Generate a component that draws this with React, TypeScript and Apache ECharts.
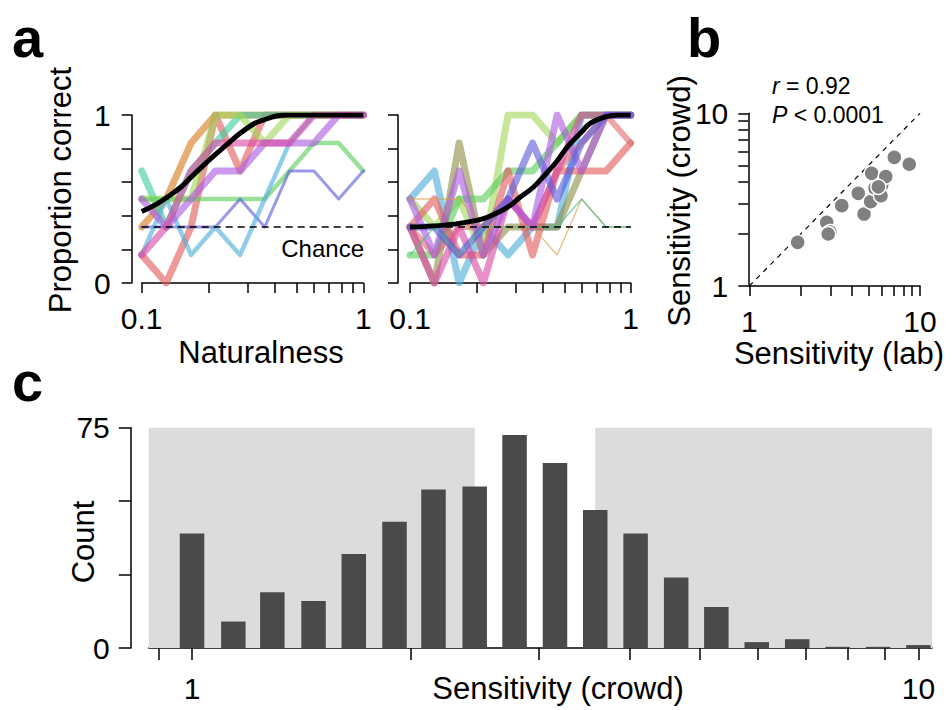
import React, { useEffect, useRef } from 'react';
import * as echarts from 'echarts';

const FONT = '"Liberation Sans", Arial, Helvetica, sans-serif';

// ---------- panel a ----------
const NATURALNESS = [0.1, 0.129, 0.167, 0.215, 0.278, 0.359, 0.464, 0.599, 0.774, 1.0];
const CHANCE_LEVEL = 0.333;
const A_TICKS = [0.1, 0.2, 0.3, 0.4, 0.5, 0.6, 0.7, 0.8, 0.9, 1];
const A_LABELS = [0.1, 1];
const PROP_TICKS = [0, 0.2, 0.4, 0.6, 0.8, 1];
const PROP_LABELS = [0, 1];

const LEFT_SUBJECTS = [
  [0.333, 0.5, 0.833, 1, 1, 1, 1, 1, 1, 1],
  [0.167, 0, 0.333, 1, 0.667, 1, 1, 1, 1, 1],
  [0.667, 0.333, 0.667, 0.833, 1, 1, 1, 1, 1, 1],
  [0.5, 0.5, 0.5, 1, 1, 0.833, 1, 1, 1, 1],
  [0.5, 0.5, 0.5, 0.5, 0.5, 0.5, 0.667, 0.833, 0.833, 0.667],
  [0.333, 0.333, 0.333, 0.333, 0.5, 0.333, 0.667, 0.667, 0.5, 0.667],
  [0.167, 0.5, 0.167, 0.333, 0.167, 0.5, 0.833, 1, 1, 1],
  [0.5, 0.333, 0.5, 0.667, 0.667, 0.833, 0.833, 0.833, 1, 1],
  [0.167, 0.333, 0.667, 0.833, 0.833, 0.833, 0.833, 1, 1, 1],
];
const LEFT_COLORS = ['#d77a1f', '#e05c5c', '#3fcf9f', '#a3d65c', '#5ccc5c', '#5c5cdc', '#4eaedc', '#ac5ce0', '#da4aa6'];
const LEFT_WIDTHS = [7, 7, 7, 7, 4.5, 3, 4.5, 7, 7];

const RIGHT_SUBJECTS = [
  [0.5, 0.667, 0, 0.333, 0.167, 0.333, 0.333, 1, 1, 1],
  [0.333, 0, 0.833, 0.167, 0.333, 0.333, 0.333, 0.667, 1, 1],
  [0.5, 0.333, 0.5, 0.167, 1, 1, 0.833, 1, 1, 1],
  [0.167, 0.167, 0.5, 0.5, 0.667, 0.667, 0.833, 1, 1, 1],
  [0.333, 0.5, 0.167, 0.167, 0.667, 0.167, 0.667, 0.667, 0.667, 0.833],
  [0.333, 0.167, 0.333, 0.333, 0.5, 0.333, 0.667, 0.833, 1, 0.833],
  [0.333, 0, 0.333, 0, 0.5, 0.333, 0.667, 1, 1, 1],
  [0.5, 0.167, 0.667, 0.167, 0.5, 0.333, 1, 0.667, 1, 1],
  [0.333, 0.333, 0.167, 0.333, 0.5, 0.833, 0.5, 0.833, 1, 1],
  [0.5, 0.5, 0.5, 0.333, 0.333, 0.333, 0.167, 0.5, 0.333, 0.333],
  [0.167, 0.333, 0.167, 0.333, 0.333, 0.333, 0.333, 0.5, 0.333, 0.333],
];
const RIGHT_COLORS = ['#4eaedc', '#8f8f4a', '#a3d65c', '#5ccc5c', '#e05c5c', '#e07070', '#da4aa6', '#ac5ce0', '#5c5cdc', '#d9a050', '#3fbf88'];
const RIGHT_WIDTHS = [7, 7, 7, 7, 7, 6, 7, 7, 7, 1.5, 1.5];

const LEFT_FIT_X = [0.1, 0.115, 0.13, 0.15, 0.168, 0.19, 0.214, 0.245, 0.278, 0.324, 0.354, 0.406, 0.46, 0.6, 1];
const LEFT_FIT_Y = [0.425, 0.465, 0.51, 0.57, 0.633, 0.7, 0.762, 0.83, 0.891, 0.951, 0.97, 0.994, 1, 1, 1];
const RIGHT_FIT_X = [0.1, 0.13, 0.167, 0.215, 0.25, 0.28, 0.315, 0.362, 0.41, 0.463, 0.52, 0.6, 0.655, 0.774, 0.88, 1];
const RIGHT_FIT_Y = [0.333, 0.34, 0.355, 0.383, 0.42, 0.455, 0.51, 0.57, 0.645, 0.725, 0.815, 0.9, 0.95, 0.99, 1, 1];

// ---------- panel b ----------
const SENS_LAB = [1.92, 2.84, 2.97, 2.9, 3.48, 4.35, 4.7, 5.14, 5.21, 5.45, 5.97, 5.91, 6.3, 7.07, 8.65, 5.7];
const SENS_CROWD = [1.79, 2.34, 2.05, 2.0, 2.92, 3.44, 2.61, 3.08, 4.49, 3.68, 3.84, 3.33, 4.3, 5.56, 5.07, 3.75];
const B_TICKS = [1, 2, 3, 4, 5, 6, 7, 8, 9, 10];
const B_LABELS = [1, 10];
const B_RANGE = [1, 10];

// ---------- panel c ----------
const BIN_CENTERS = [1.0, 1.14, 1.29, 1.47, 1.67, 1.9, 2.15, 2.45, 2.78, 3.16, 3.59, 4.08, 4.64, 5.27, 5.99, 6.81, 7.74, 8.8, 10.0];
const COUNTS = [39, 9, 19, 16, 32, 43, 54, 55, 72.5, 63, 47, 39, 24, 14, 2, 3, 0.4, 0.4, 1];
const C_RANGE = [0.872, 10.44];
const C_TICKS = [0.9, 1, 2, 3, 4, 5, 6, 7, 8, 9, 10];
const C_LABELS = [1, 10];
const COUNT_TICKS = [0, 25, 50, 75];
const COUNT_MAX = 75;
const COUNT_LABELS = [0, 75];
const LOW_RANGE = [0.872, 2.45];
const HIGH_RANGE = [3.59, 10.44];

const L = Math.log10;
const fmtLog = (v: number) => {
  const r = Math.pow(10, v);
  return r < 0.999 ? String(Math.round(r * 10) / 10) : String(Math.round(r));
};

const lineStyleAxis = { show: true, onZero: false, lineStyle: { color: '#000', width: 1.5 } };
const tickStyle = (len: number, values: number[]) => ({
  show: true,
  inside: false,
  length: len,
  customValues: values,
  lineStyle: { color: '#000', width: 1.5 },
});
const labelStyle = (values: number[], margin: number, formatter?: any) => ({
  show: true,
  customValues: values,
  margin,
  color: '#000',
  fontSize: 30,
  fontFamily: FONT,
  formatter,
});

function buildOption(): any {
  const series: any[] = [];
  const subj = (vals: number[], color: string, width: number, ax: number) => ({
    type: 'line',
    xAxisIndex: ax,
    yAxisIndex: ax,
    data: NATURALNESS.map((n, i) => [L(n), vals[i]]),
    symbol: 'none',
    silent: true,
    lineStyle: { color, width, opacity: 0.62, cap: 'round', join: 'round' },
    z: 2,
  });
  LEFT_SUBJECTS.forEach((v, i) => series.push(subj(v, LEFT_COLORS[i], LEFT_WIDTHS[i], 0)));
  RIGHT_SUBJECTS.forEach((v, i) => series.push(subj(v, RIGHT_COLORS[i], RIGHT_WIDTHS[i], 1)));
  [0, 1].forEach((ax) => {
    series.push({
      type: 'line',
      xAxisIndex: ax,
      yAxisIndex: ax,
      data: [
        [L(NATURALNESS[0]), CHANCE_LEVEL],
        [L(NATURALNESS[NATURALNESS.length - 1]), CHANCE_LEVEL],
      ],
      symbol: 'none',
      silent: true,
      lineStyle: { color: '#000', width: 1.5, type: [7, 5] },
      z: 3,
    });
  });
  series.push({
    type: 'line',
    xAxisIndex: 0,
    yAxisIndex: 0,
    data: LEFT_FIT_X.map((x, i) => [L(x), LEFT_FIT_Y[i]]),
    symbol: 'none',
    smooth: 0.4,
    silent: true,
    lineStyle: { color: '#000', width: 5 },
    z: 4,
  });
  series.push({
    type: 'line',
    xAxisIndex: 1,
    yAxisIndex: 1,
    data: RIGHT_FIT_X.map((x, i) => [L(x), RIGHT_FIT_Y[i]]),
    symbol: 'none',
    smooth: 0.4,
    silent: true,
    lineStyle: { color: '#000', width: 5 },
    z: 4,
  });
  // panel b
  series.push({
    type: 'line',
    xAxisIndex: 2,
    yAxisIndex: 2,
    data: [
      [L(B_RANGE[0]), L(B_RANGE[0])],
      [L(B_RANGE[1]), L(B_RANGE[1])],
    ],
    symbol: 'none',
    silent: true,
    lineStyle: { color: '#000', width: 1.2, type: [5, 5] },
    z: 2,
  });
  series.push({
    type: 'scatter',
    xAxisIndex: 2,
    yAxisIndex: 2,
    data: SENS_LAB.map((x, i) => [L(x), L(SENS_CROWD[i])]),
    symbolSize: 15,
    silent: true,
    itemStyle: { color: '#808080', borderColor: '#fff', borderWidth: 1.5, opacity: 1 },
    z: 3,
  });
  // panel c
  series.push({
    type: 'bar',
    xAxisIndex: 3,
    yAxisIndex: 3,
    data: BIN_CENTERS.map((c, i) => [L(c), COUNTS[i]]),
    barWidth: 24.5,
    silent: true,
    itemStyle: { color: '#4a4a4a' },
    markArea: {
      silent: true,
      itemStyle: { color: '#dcdcdc' },
      data: [
        [{ xAxis: L(LOW_RANGE[0]), yAxis: 0 }, { xAxis: L(LOW_RANGE[1]), yAxis: COUNT_MAX }],
        [{ xAxis: L(HIGH_RANGE[0]), yAxis: 0 }, { xAxis: L(HIGH_RANGE[1]), yAxis: COUNT_MAX }],
      ],
    },
    z: 3,
  });

  const txt = (text: string, x: number, y: number, size: number, align: string, extra: any = {}) => ({
    type: 'text',
    x,
    y,
    silent: true,
    rotation: extra.rotation || 0,
    style: {
      text,
      fill: '#000',
      font: `${extra.bold ? 'bold ' : ''}${size}px ${FONT}`,
      textAlign: align,
      textVerticalAlign: 'middle',
    },
  });

  const graphic: any[] = [
    txt('a', 12, 37, 56, 'left', { bold: true }),
    txt('b', 687, 37, 56, 'left', { bold: true }),
    txt('c', 12, 381, 56, 'left', { bold: true }),
    txt('Chance', 364, 248, 24, 'right'),
    txt('Low sensitivity', 159, 456, 31, 'left'),
    txt('High sensitivity', 921, 456, 31, 'right'),
    txt('Proportion correct', 60, 190, 31, 'center', { rotation: Math.PI / 2 }),
    txt('Naturalness', 261, 352, 31, 'center'),
    txt('Sensitivity (crowd)', 679, 201, 31, 'center', { rotation: Math.PI / 2 }),
    txt('Sensitivity (lab)', 839, 353, 31, 'center'),
    txt('Count', 83, 542, 31, 'center', { rotation: Math.PI / 2 }),
    txt('Sensitivity (crowd)', 558, 688, 31, 'center'),
    {
      type: 'text',
      x: 772,
      y: 86,
      silent: true,
      style: {
        text: '{i|r} = 0.92',
        fill: '#000',
        font: `23px ${FONT}`,
        textVerticalAlign: 'middle',
        rich: { i: { fontStyle: 'italic', fontSize: 23, fontFamily: FONT } },
      },
    },
    {
      type: 'text',
      x: 772,
      y: 115,
      silent: true,
      style: {
        text: '{i|P} < 0.0001',
        fill: '#000',
        font: `23px ${FONT}`,
        textVerticalAlign: 'middle',
        rich: { i: { fontStyle: 'italic', fontSize: 23, fontFamily: FONT } },
      },
    },
  ];

  return {
    animation: false,
    backgroundColor: '#fff',
    grid: [
      { left: 141.7, top: 115, width: 221.6, height: 168 },
      { left: 410, top: 115, width: 220.7, height: 168 },
      { left: 749.3, top: 113.3, width: 170.7, height: 172.7 },
      { left: 148.8, top: 427.7, width: 783.2, height: 220.3 },
    ],
    xAxis: [
      {
        type: 'value', gridIndex: 0, min: L(A_TICKS[0]), max: L(A_TICKS[A_TICKS.length - 1]),
        axisLine: lineStyleAxis, axisTick: tickStyle(10, A_TICKS.map(L)),
        axisLabel: labelStyle(A_LABELS.map(L), 20, fmtLog), splitLine: { show: false },
      },
      {
        type: 'value', gridIndex: 1, min: L(A_TICKS[0]), max: L(A_TICKS[A_TICKS.length - 1]),
        axisLine: lineStyleAxis, axisTick: tickStyle(10, A_TICKS.map(L)),
        axisLabel: labelStyle(A_LABELS.map(L), 20, fmtLog), splitLine: { show: false },
      },
      {
        type: 'value', gridIndex: 2, min: L(B_RANGE[0]), max: L(B_RANGE[1]),
        axisLine: lineStyleAxis, axisTick: tickStyle(10, B_TICKS.map(L)),
        axisLabel: labelStyle(B_LABELS.map(L), 20, fmtLog), splitLine: { show: false },
      },
      {
        type: 'value', gridIndex: 3, min: L(C_RANGE[0]), max: L(C_RANGE[1]),
        axisLine: lineStyleAxis, axisTick: tickStyle(12, C_TICKS.map(L)),
        axisLabel: labelStyle(C_LABELS.map(L), 25, fmtLog), splitLine: { show: false },
      },
    ],
    yAxis: [
      {
        type: 'value', gridIndex: 0, min: 0, max: 1, interval: 0.2, offset: 10,
        axisLine: lineStyleAxis, axisTick: tickStyle(10, PROP_TICKS),
        axisLabel: labelStyle(PROP_LABELS, 21), splitLine: { show: false },
      },
      {
        type: 'value', gridIndex: 1, min: 0, max: 1, interval: 0.2, offset: 12,
        axisLine: lineStyleAxis, axisTick: tickStyle(10, PROP_TICKS),
        axisLabel: { show: false }, splitLine: { show: false },
      },
      {
        type: 'value', gridIndex: 2, min: L(B_RANGE[0]), max: L(B_RANGE[1]), offset: 1,
        axisLine: lineStyleAxis, axisTick: tickStyle(10, B_TICKS.map(L)),
        axisLabel: labelStyle(B_LABELS.map(L), 20, fmtLog), splitLine: { show: false },
      },
      {
        type: 'value', gridIndex: 3, min: 0, max: COUNT_MAX, interval: 25, offset: 18,
        axisLine: lineStyleAxis, axisTick: tickStyle(12, COUNT_TICKS),
        axisLabel: labelStyle(COUNT_LABELS, 21), splitLine: { show: false },
      },
    ],
    series,
    graphic,
  };
}

export default function App() {
  const ref = useRef<HTMLDivElement>(null);
  useEffect(() => {
    if (!ref.current) return;
    const chart = echarts.init(ref.current, undefined, { renderer: 'svg' });
    chart.setOption(buildOption());
    return () => chart.dispose();
  }, []);
  return (
    <div
      ref={ref}
      style={{ position: 'absolute', left: 0, top: 0, width: 952, height: 710, background: '#fff' }}
    />
  );
}
